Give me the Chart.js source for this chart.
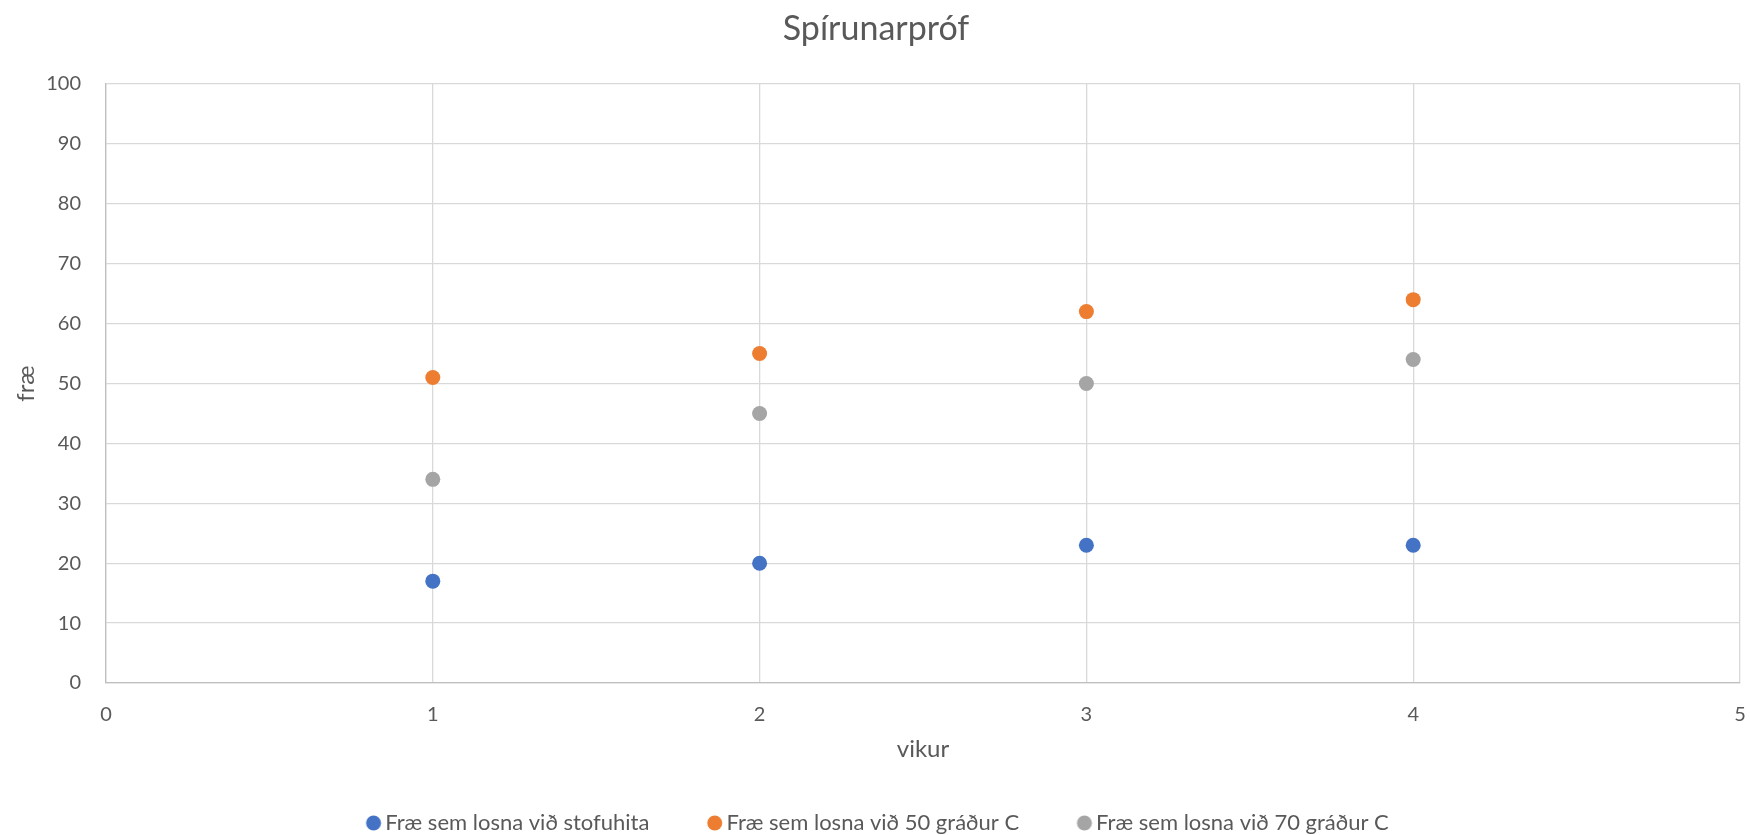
<!DOCTYPE html>
<html>
<head>
<meta charset="utf-8">
<script src="https://cdn.jsdelivr.net/npm/chart.js@4/dist/chart.umd.min.js"></script>
<style>
  html, body { margin: 0; padding: 0; background: #ffffff; }
  #wrap { width: 1750px; height: 835px; position: relative; }
</style>
</head>
<body>
<div id="wrap"><canvas id="c" width="1750" height="835"></canvas></div>
<script>
// Germination test: seeds released per week
const weeks = [1, 2, 3, 4];
const roomTemp = [17, 20, 23, 23];
const at50C = [51, 55, 62, 64];
const at70C = [34, 45, 50, 54];
const seriesNames = [
  'Fræ sem losna við stofuhita',
  'Fræ sem losna við 50 gráður C',
  'Fræ sem losna við 70 gráður C'
];
const seriesColors = ['#4472C4', '#ED7D31', '#A5A5A5'];

const FONT = 'Lato, "Open Sans", sans-serif';
const TEXT = '#595959';

// plot frame edges in canvas pixels
const PAD_LEFT = 12;
const PLOT_LEFT = 106;
const PLOT_BOTTOM = 683;
const BOTTOM_PAD = -9;

function toPoints(xs, ys) {
  return xs.map((x, i) => ({ x: x, y: ys[i] }));
}

// legend swatch: a dot sitting close to its label text
function legendDot(color) {
  const c = document.createElement('canvas');
  c.width = 26;
  c.height = 16;
  const g = c.getContext('2d');
  g.fillStyle = color;
  g.beginPath();
  g.arc(17.8, 8, 7.5, 0, Math.PI * 2);
  g.fill();
  return c;
}

const datasets = [roomTemp, at50C, at70C].map((vals, i) => ({
  label: seriesNames[i],
  data: toPoints(weeks, vals),
  backgroundColor: seriesColors[i],
  borderColor: seriesColors[i],
  borderWidth: 0,
  pointRadius: 7.5,
  pointHoverRadius: 7.5,
  pointStyle: 'circle',
  showLine: false
}));

new Chart(document.getElementById('c'), {
  type: 'scatter',
  data: { datasets: datasets },
  options: {
    responsive: false,
    animation: false,
    layout: { padding: { left: PAD_LEFT, right: 10, top: 0, bottom: BOTTOM_PAD } },
    plugins: {
      tooltip: { enabled: false },
      title: {
        display: true,
        text: 'Spírunarpróf',
        color: TEXT,
        font: { family: FONT, size: 34, weight: 'normal' },
        padding: { top: 8.5, bottom: 34.7 }
      },
      legend: {
        position: 'bottom',
        labels: {
          color: TEXT,
          font: { family: FONT, size: 22 },
          usePointStyle: true,
          boxWidth: 11,
          boxHeight: 11,
          padding: 55,
          generateLabels: (chart) => {
            const items = Chart.defaults.plugins.legend.labels.generateLabels(chart);
            return items.map((it) => {
              it.pointStyle = legendDot(seriesColors[it.datasetIndex]);
              return it;
            });
          }
        }
      }
    },
    scales: {
      x: {
        type: 'linear',
        min: 0,
        max: 5,
        afterFit: (s) => {
          const lg = s.chart.legend;
          const lgH = lg ? lg.height : 0;
          s.height = s.chart.height - BOTTOM_PAD - lgH - PLOT_BOTTOM;
          s.paddingLeft = 0;
          s.paddingRight = 0;
        },
        ticks: { stepSize: 1, color: TEXT, font: { family: FONT, size: 20 }, padding: 20 },
        grid: { color: '#D9D9D9', lineWidth: 1.3, drawTicks: false },
        border: { color: '#BFBFBF', width: 1.3 },
        title: {
          display: true,
          text: 'vikur',
          color: TEXT,
          font: { family: FONT, size: 24 },
          padding: { top: 0, bottom: -7 }
        }
      },
      y: {
        type: 'linear',
        min: 0,
        max: 100,
        afterFit: (s) => { s.width = PLOT_LEFT - PAD_LEFT; },
        ticks: { stepSize: 10, color: TEXT, font: { family: FONT, size: 20 }, padding: 25 },
        grid: { color: '#D9D9D9', lineWidth: 1.3, drawTicks: false },
        border: { color: '#BFBFBF', width: 1.3 },
        title: {
          display: true,
          text: 'fræ',
          color: TEXT,
          font: { family: FONT, size: 24 },
          padding: { top: 11.6 - PAD_LEFT, bottom: 0 }
        }
      }
    }
  }
});
</script>
</body>
</html>
